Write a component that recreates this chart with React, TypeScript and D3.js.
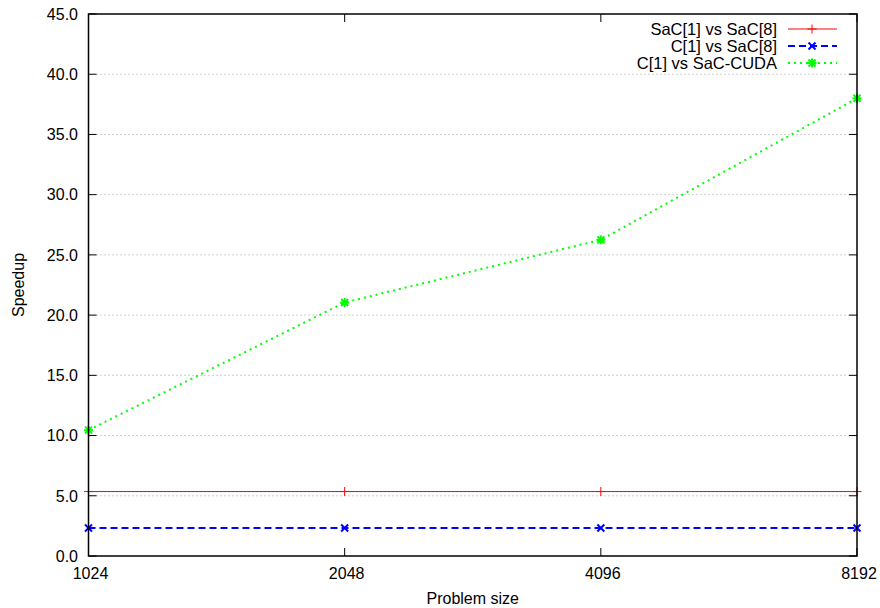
import React from "react";
import * as d3 from "d3";

const problemSizes = [1024, 2048, 4096, 8192];
const sacVsSac8 = [5.35, 5.35, 5.35, 5.35];
const cVsSac8 = [2.33, 2.33, 2.33, 2.33];
const cVsSacCuda = [10.45, 21.05, 26.25, 38.0];
const yTicks = [0, 5, 10, 15, 20, 25, 30, 35, 40, 45];
const seriesNames = ["SaC[1] vs SaC[8]", "C[1] vs SaC[8]", "C[1] vs SaC-CUDA"];

const W = 880, H = 608;
const m = { left: 88.5, right: 857, top: 14, bottom: 556 };
const FONT = "'Liberation Sans', Arial, Helvetica, sans-serif";

function Marker({ kind, x, y, color }: { kind: string; x: number; y: number; color: string }) {
  const s = 4.5;
  if (kind === "plus") {
    return (
      <g stroke={color} strokeWidth={1}>
        <line x1={x - s} y1={y} x2={x + s} y2={y} />
        <line x1={x} y1={y - s} x2={x} y2={y + s} />
      </g>
    );
  }
  if (kind === "cross") {
    const c = 3.5;
    return (
      <g stroke={color} strokeWidth={2}>
        <line x1={x - c} y1={y - c} x2={x + c} y2={y + c} />
        <line x1={x - c} y1={y + c} x2={x + c} y2={y - c} />
      </g>
    );
  }
  const c = 3.5;
  return (
    <g stroke={color} strokeWidth={2}>
      <line x1={x - c} y1={y - c} x2={x + c} y2={y + c} />
      <line x1={x - c} y1={y + c} x2={x + c} y2={y - c} />
      <line x1={x - s} y1={y} x2={x + s} y2={y} />
      <line x1={x} y1={y - s} x2={x} y2={y + s} />
    </g>
  );
}

export default function App() {
  const x = d3.scaleLog().base(2).domain([1024, 8192]).range([m.left, m.right]);
  const y = d3.scaleLinear().domain([0, 45]).range([m.bottom, m.top]);

  const series = [
    { name: seriesNames[0], values: sacVsSac8, color: "#ff0000", dash: "none", width: 1, marker: "plus" },
    { name: seriesNames[1], values: cVsSac8, color: "#0000ff", dash: "7,4", width: 2, marker: "cross" },
    { name: seriesNames[2], values: cVsSacCuda, color: "#00ff00", dash: "2,4", width: 2, marker: "star" },
  ];

  const line = d3
    .line<number>()
    .x((_, i) => x(problemSizes[i]))
    .y((d) => y(d));

  const tick = 8;

  return (
    <svg
      width={W}
      height={H}
      style={{ position: "absolute", left: 0, top: 0, background: "#fff" }}
      fontFamily={FONT}
    >
      <rect x={0} y={0} width={W} height={H} fill="#fff" />
      {yTicks.slice(1, -1).map((t) => (
        <line
          key={"g" + t}
          x1={m.left + tick}
          x2={m.right - tick}
          y1={y(t)}
          y2={y(t)}
          stroke="#a0a0a0"
          strokeWidth={1}
          strokeDasharray="1,3"
        />
      ))}
      {yTicks.map((t) => (
        <g key={"yt" + t}>
          <line x1={m.left} x2={m.left + tick} y1={y(t)} y2={y(t)} stroke="#000" strokeWidth={1} />
          <line x1={m.right - tick} x2={m.right} y1={y(t)} y2={y(t)} stroke="#000" strokeWidth={1} />
          <text x={78} y={y(t)} dy="0.36em" textAnchor="end" fontSize={16} fill="#000">
            {t.toFixed(1)}
          </text>
        </g>
      ))}
      {problemSizes.map((p) => (
        <g key={"xt" + p}>
          <line x1={x(p)} x2={x(p)} y1={m.bottom} y2={m.bottom - tick} stroke="#000" strokeWidth={1} />
          <line x1={x(p)} x2={x(p)} y1={m.top} y2={m.top + tick} stroke="#000" strokeWidth={1} />
          <text x={x(p) + 2} y={579} textAnchor="middle" fontSize={16} fill="#000">
            {p}
          </text>
        </g>
      ))}
      {series.map((s) => (
        <g key={s.name}>
          <path
            d={line(s.values) || ""}
            fill="none"
            stroke={s.color}
            strokeWidth={s.width}
            strokeDasharray={s.dash}
          />
          {s.values.map((v, i) => (
            <Marker key={i} kind={s.marker} x={x(problemSizes[i])} y={y(v)} color={s.color} />
          ))}
        </g>
      ))}
      <rect
        x={m.left}
        y={m.top}
        width={m.right - m.left}
        height={m.bottom - m.top}
        fill="none"
        stroke="#000"
        strokeWidth={1.5}
      />
      {series.map((s, i) => {
        const ly = 29 + i * 17;
        return (
          <g key={"lg" + i}>
            <text x={777} y={ly} dy="0.36em" textAnchor="end" fontSize={16.5} fill="#000">
              {s.name}
            </text>
            <line
              x1={788}
              x2={837}
              y1={ly}
              y2={ly}
              stroke={s.color}
              strokeWidth={s.width}
              strokeDasharray={s.dash}
            />
            <Marker kind={s.marker} x={812} y={ly} color={s.color} />
          </g>
        );
      })}
      <text x={(m.left + m.right) / 2} y={604} textAnchor="middle" fontSize={16} fill="#000">
        Problem size
      </text>
      <text
        transform={`translate(24, ${(m.top + m.bottom) / 2}) rotate(-90)`}
        textAnchor="middle"
        fontSize={16}
        fill="#000"
      >
        Speedup
      </text>
    </svg>
  );
}
